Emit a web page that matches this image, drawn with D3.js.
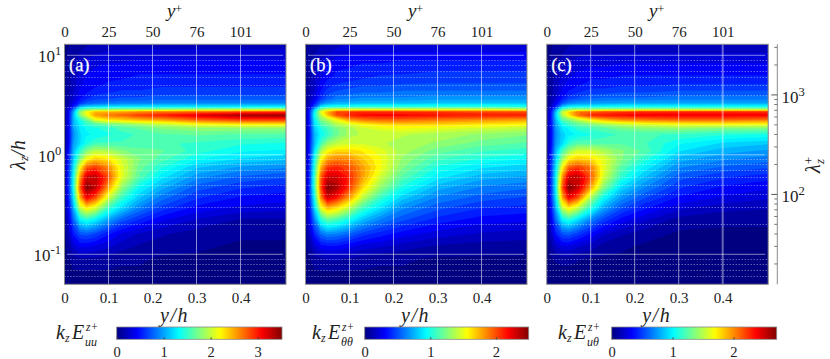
<!DOCTYPE html>
<html><head><meta charset="utf-8">
<script src="https://cdn.jsdelivr.net/npm/d3@7"></script>
<style>
html,body{margin:0;padding:0;background:#fff}
svg{display:block}
text{font-family:"Liberation Serif",serif;fill:#222}
.it{font-style:italic}
</style></head><body>
<svg id="c" width="830" height="359"></svg>
<script>
// ----- data -----
const yOverH = [0,0.008,0.02,0.035,0.05,0.07,0.1,0.13,0.17,0.22,0.3,0.4,0.503];
const lambdaZ = [12.9,8,6,5,4.3,3.7,3.3,3.0,2.85,2.7,2.5,2.25,2.0,1.85,1.6,1.3,1.1,0.9,0.75,0.6,0.47,0.37,0.3,0.22,0.16,0.12,0.09,0.065,0.05];
// each row = one lambdaZ, each column = one yOverH; values in % of the colour-bar maximum
const fieldUU = [
[0,1,2,3,4,5,6,6,6,6,6,6,6],
[1,3,5,7,9,10,11,11,12,12,12,12,12],
[1,3,6,9,11,12,13,13,14,14,14,14,14],
[1,3,6,10,12,13,14,15,15,16,16,16,16],
[1,3,7,11,13,15,16,17,17,18,18,18,18],
[1,4,8,13,16,18,19,20,20,21,21,21,21],
[1,4,10,17,21,23,24,25,25,26,26,26,26],
[1,6,16,32,36,37,38,38,38,38,38,38,39],
[2,8,24,44,50,52,52,53,53,54,55,56,57],
[2,10,28,52,62,70,70,72,74,76,78,80,82],
[2,10,30,50,60,72,76,78,82,85,90,97,98],
[2,10,30,40,48,60,65,67,70,72,78,82,82],
[2,10,30,36,42,44,47,49,52,55,60,62,62],
[2,10,28,35,38,40,42,45,47,50,52,52,52],
[2,10,26,34,37,38,40,42,44,46,47,46,46],
[2,10,28,34,40,44,44,44,44,44,43,41,40],
[2,12,30,42,50,55,54,50,48,47,42,38,37],
[2,14,32,50,62,68,65,58,50,45,38,34,32],
[2,15,35,62,78,82,74,60,48,41,32,28,26],
[2,15,38,72,92,94,80,60,46,36,27,22,20],
[2,15,38,78,100,94,72,52,38,30,21,17,15],
[2,13,35,70,88,80,58,43,32,24,17,13,12],
[2,11,30,58,67,61,45,35,26,19,13,10,9],
[1,8,22,36,40,36,28,21,16,11,7,4,4],
[1,5,14,20,21,19,14,10,7,5,3,2,2],
[0,3,8,11,11,10,8,6,4,3,2,1,1],
[0,1,3,4,4,4,3,2,2,1,1,1,1],
[0,0,1,1,1,1,1,1,1,1,1,1,1],
[0,0,0,0,0,0,0,0,0,0,0,0,0]];
const fieldTT = [
[1,2,3,4,5,6,8,8,8,8,8,8,8],
[1,3,6,9,11,13,13,14,14,15,15,15,15],
[1,3,7,10,13,14,15,16,17,17,18,18,18],
[1,4,7,12,15,17,18,19,19,20,20,20,20],
[1,4,8,14,18,20,21,22,22,23,23,23,23],
[1,5,10,17,21,24,25,26,26,26,27,27,27],
[1,6,14,24,28,30,30,31,31,31,32,32,32],
[2,8,22,38,42,43,43,44,44,44,44,44,43],
[2,12,32,52,58,60,60,60,60,60,60,60,58],
[3,14,36,60,70,80,82,83,83,83,82,81,80],
[3,14,38,56,68,80,85,87,87,87,86,85,85],
[3,13,36,50,55,62,72,76,78,78,76,74,72],
[3,13,34,44,48,54,58,62,65,66,66,64,62],
[3,12,32,40,44,49,54,58,60,62,60,58,56],
[3,12,30,38,42,48,54,56,56,56,54,52,50],
[3,13,30,44,52,56,58,58,56,54,52,48,46],
[3,13,34,54,62,66,66,64,60,54,48,44,42],
[3,14,38,62,72,75,74,68,62,52,44,40,37],
[3,15,40,70,82,84,80,72,62,50,40,35,33],
[3,15,42,78,92,92,84,72,58,46,36,30,28],
[3,15,42,80,100,96,82,66,52,40,30,25,23],
[3,14,38,74,92,86,72,56,43,33,25,21,19],
[2,12,34,62,72,68,58,45,36,27,21,17,16],
[2,10,24,40,46,44,38,31,25,20,15,12,11],
[1,6,15,23,26,25,22,18,15,12,9,7,6],
[1,3,8,12,13,13,11,9,8,6,4,3,3],
[0,1,3,4,5,5,4,3,2,2,1,1,1],
[0,0,1,1,1,1,1,1,1,1,1,1,1],
[0,0,0,0,0,0,0,0,0,0,0,0,0]];
const fieldUT = [
[0,1,2,3,4,5,5,5,5,5,5,5,5],
[1,2,4,6,8,9,10,10,11,11,11,11,11],
[1,3,5,8,10,12,13,13,14,14,14,14,14],
[1,3,6,10,12,13,15,15,16,16,17,17,17],
[1,3,6,11,14,16,18,18,19,19,20,20,20],
[1,4,8,14,18,20,22,23,23,23,24,24,24],
[1,4,11,20,25,27,28,28,29,29,29,29,29],
[1,6,18,34,39,40,40,41,41,41,41,41,41],
[2,9,26,46,52,54,54,55,55,56,56,56,56],
[2,11,30,56,66,76,78,80,82,83,84,84,84],
[2,11,32,54,64,76,84,86,87,88,88,88,88],
[2,11,30,46,50,56,64,70,74,76,78,78,76],
[2,11,28,38,42,46,49,52,55,58,60,61,60],
[2,10,27,35,38,42,44,46,49,51,52,50,50],
[2,10,26,33,36,38,40,42,44,44,43,41,40],
[2,10,27,34,42,46,46,46,46,44,38,34,32],
[2,11,30,44,52,58,58,54,50,46,35,30,28],
[2,13,32,52,64,68,66,60,50,42,30,26,24],
[2,14,34,62,78,82,76,60,46,37,26,22,20],
[2,14,36,72,92,94,80,58,42,32,21,17,15],
[2,14,36,78,100,94,72,50,34,26,17,13,11],
[2,13,34,70,88,80,54,38,27,20,13,10,8],
[2,11,30,58,67,59,43,30,21,15,9,6,5],
[1,8,22,36,40,34,25,18,12,8,3,2,2],
[1,5,14,20,21,18,13,8,5,3,1,1,1],
[0,3,7,10,10,8,6,3,2,1,1,1,1],
[0,1,2,3,3,2,1,1,1,1,0,0,0],
[0,0,0,0,0,0,0,0,0,0,0,0,0],
[0,0,0,0,0,0,0,0,0,0,0,0,0]];
const yTicks = [0,0.1,0.2,0.3,0.4];
const yTickLabels = ["0","0.1","0.2","0.3","0.4"];
const yPlusLabels = ["0","25","50","76","101"];
const lambdaDecades = [10,1,0.1];
const lambdaExponents = ["1","0","-1"];
const panelLabels = ["(a)","(b)","(c)"];
const barMax = [3.52,2.5,2.71];
const barTicks = [[0,1,2,3],[0,1,2],[0,1,2]];
const barSubs = ["uu","θθ","uθ"];
const lambdaPlusDecades = [1000,100];
const lambdaPlusExp = ["3","2"];
const lambdaPlusMinor = [3000,2000,900,800,700,600,500,400,300,200,90,80,70,60,50,40,30,20];
const lambdaPerPlus = 250; // lambda+ = 250 * lambda/h

// ----- layout -----
const panels = [
 {x0:64.5,  field:fieldUU, bx:[116.7,282],   lx:56},
 {x0:305.5, field:fieldTT, bx:[364.7,528.7], lx:312},
 {x0:546.7, field:fieldUT, bx:[611.7,776.7], lx:558}];
const W=221.5, T=44.3, B=284.3, Y10=55.3, DEC=99.5;
const FS=15, TITLE=20, SUPF=13;
const svg=d3.select("#c");
const jet=t=>{const c=v=>Math.round(255*Math.max(0,Math.min(1,1.5-Math.abs(v))));
  return `rgb(${c(4*t-3)},${c(4*t-2)},${c(4*t-1)})`;};
const minor=[];[10,1,0.1,0.01].forEach(d=>{for(let k=2;k<10;k++)minor.push(k*d)});
const defs=svg.append("defs");
const blur=defs.append("filter").attr("id","soft").attr("x","-2%").attr("y","-2%").attr("width","104%").attr("height","104%");
blur.append("feGaussianBlur").attr("stdDeviation",0.45);
const grad=defs.append("linearGradient").attr("id","jet");
d3.range(0,1.0001,0.02).forEach(t=>grad.append("stop").attr("offset",t).attr("stop-color",jet(t)));

const yS=d3.scaleLog().domain([10,0.1]).range([Y10,Y10+2*DEC]);
const levels=d3.range(1.5,100,3);

function sup(g,x,y,anchor,base,exp,fs){
  const t=g.append("text").attr("x",x).attr("y",y).attr("text-anchor",anchor).attr("font-size",fs).text(base);
  t.append("tspan").attr("dy",-7).attr("font-size",fs*0.74).text(exp);
  return t;
}

panels.forEach((p,pi)=>{
  const xS=d3.scaleLinear().domain([0,0.5034]).range([p.x0,p.x0+W]);
  const g=svg.append("g");
  const id="clip"+pi;
  defs.append("clipPath").attr("id",id).append("rect").attr("x",p.x0).attr("y",T).attr("width",W).attr("height",B-T);
  const plot=g.append("g").attr("clip-path",`url(#${id})`);
  const heat=plot.append("g").attr("filter","url(#soft)");
  heat.append("rect").attr("x",p.x0-2).attr("y",T-2).attr("width",W+4).attr("height",B-T+4).attr("fill",jet(0));
  const n=yOverH.length,m=lambdaZ.length;
  const mx=d3.scaleLinear().domain(d3.range(n)).range(yOverH.map(xS)).clamp(true);
  const my=d3.scaleLinear().domain(d3.range(m)).range(lambdaZ.map(yS)).clamp(true);
  const flat=p.field.flat();
  const cont=d3.contours().size([n,m]).thresholds(levels)(flat);
  const path=d3.geoPath(d3.geoTransform({point(x,y){this.stream.point(mx(x-0.5),my(y-0.5));}}));
  heat.selectAll("path").data(cont).join("path").attr("d",path)
    .attr("fill",d=>jet(Math.min(1,(d.value+1.5)/100)));
  // grid
  plot.selectAll(".v").data(yTicks.slice(1)).join("line")
    .attr("x1",xS).attr("x2",xS).attr("y1",T).attr("y2",B)
    .attr("stroke","#fff").attr("stroke-opacity",d=>(pi===2&&d===0.4)?0.4:0.55).attr("stroke-width",d=>(pi===2&&d===0.4)?2:1);
  plot.selectAll(".maj").data(lambdaDecades).join("line")
    .attr("x1",p.x0+2.5).attr("x2",p.x0+W-3).attr("y1",yS).attr("y2",yS)
    .attr("stroke","#fff").attr("stroke-opacity",0.5).attr("stroke-width",1);
  plot.selectAll(".min").data(minor.filter(d=>yS(d)>T&&yS(d)<B)).join("line")
    .attr("x1",p.x0).attr("x2",p.x0+W).attr("y1",d=>Math.round(yS(d))+0.5).attr("y2",d=>Math.round(yS(d))+0.5)
    .attr("stroke","#fff").attr("stroke-opacity",0.55).attr("stroke-width",1).attr("stroke-dasharray","1 2");
  // frame
  g.append("rect").attr("x",p.x0).attr("y",T).attr("width",W).attr("height",B-T)
    .attr("fill","none").attr("stroke","#8a8a8a").attr("stroke-width",1);
  // axes
  const top=d3.axisTop(xS).tickValues(yTicks).tickFormat((d,i)=>yPlusLabels[i]).tickSize(0).tickPadding(7.5);
  const ax=g.append("g").attr("transform",`translate(0,${T})`).call(top);
  const bot=d3.axisBottom(xS).tickValues(yTicks).tickFormat((d,i)=>yTickLabels[i]).tickSize(0).tickPadding(8);
  const ax2=g.append("g").attr("transform",`translate(0,${B})`).call(bot);
  [ax,ax2].forEach(a=>{a.select(".domain").remove();a.selectAll("text").attr("font-size",FS).attr("fill","#222");});
  // axis titles
  const top2=g.append("text").attr("class","it").attr("x",xS(0.25)).attr("y",17).attr("text-anchor","middle").attr("font-size",TITLE-1).text("y");
  top2.append("tspan").attr("dy",-4).attr("font-size",SUPF-1).style("font-style","normal").text("+");
  g.append("text").attr("class","it").attr("x",xS(0.25)).attr("y",322).attr("text-anchor","middle").attr("font-size",TITLE).attr("letter-spacing",1.5).text("y/h");
  // panel label
  g.append("text").attr("x",p.x0+4.5).attr("y",71).attr("font-size",18.5).style("fill","#fff").style("stroke","#fff").style("stroke-width",0.25).text(panelLabels[pi]);
  // colour bar
  const barY=327,barH=12.3;
  const bS=d3.scaleLinear().domain([0,barMax[pi]]).range(p.bx);
  g.append("rect").attr("x",p.bx[0]).attr("y",barY).attr("width",p.bx[1]-p.bx[0]).attr("height",barH)
    .attr("fill","url(#jet)").attr("stroke","#8a8a8a").attr("stroke-width",0.8);
  const bAx=d3.axisBottom(bS).tickValues(barTicks[pi]).tickFormat(d3.format("d")).tickSizeInner(-2).tickSizeOuter(0).tickPadding(7);
  const ba=g.append("g").attr("transform",`translate(0,${barY+barH})`).call(bAx);
  ba.select(".domain").remove();
  ba.selectAll("text").attr("font-size",14.5).attr("fill","#222");
  ba.selectAll("line").attr("stroke","#444");
  // colour bar label
  const lx=p.lx;
  const lab=(x,y,s,fs)=>g.append("text").attr("class","it").attr("x",x).attr("y",y).attr("font-size",fs).text(s);
  lab(lx,339,"k",20);
  lab(lx+9,342,"z",12);
  lab(lx+16,339,"E",20);
  lab(lx+30,331,"z+",11.5);
  lab(lx+29,346,barSubs[pi],12);
});

// left axis
const left=svg.append("g");
lambdaDecades.forEach((d,i)=>{
  sup(left,i===2?33.5:38,yS(d)+7,"start","10",lambdaExponents[i],17);
});
const ly=left.append("text").attr("class","it").attr("transform","translate(25,155) rotate(-90)").attr("text-anchor","middle").attr("font-size",TITLE).text("λ");
ly.append("tspan").attr("dy",3).attr("font-size",SUPF).text("z");
ly.append("tspan").attr("dy",-3).text("/h");

// right axis
const R=777.3;
const right=svg.append("g");
const rS=d3.scaleLog().domain([lambdaPerPlus*10,lambdaPerPlus*0.1]).range([Y10,Y10+2*DEC]);
right.append("line").attr("x1",R).attr("x2",R).attr("y1",T).attr("y2",B).attr("stroke","#8a8a8a");
right.selectAll(".rm").data(lambdaPlusMinor).join("line")
  .attr("x1",R-3).attr("x2",R).attr("y1",rS).attr("y2",rS).attr("stroke","#777");
right.selectAll(".rM").data(lambdaPlusDecades).join("line")
  .attr("x1",R-6).attr("x2",R).attr("y1",rS).attr("y2",rS).attr("stroke","#555");
lambdaPlusDecades.forEach((d,i)=>sup(right,781.5,rS(d)+8,"start","10",lambdaPlusExp[i],17));
const rl=right.append("text").attr("class","it").attr("transform","translate(820,165) rotate(-90)").attr("text-anchor","middle").attr("font-size",TITLE).text("λ");
rl.append("tspan").attr("dy",-7).attr("font-size",SUPF).style("font-style","normal").text("+");
rl.append("tspan").attr("dx",-7).attr("dy",11).attr("font-size",SUPF).text("z");
</script></body></html>
